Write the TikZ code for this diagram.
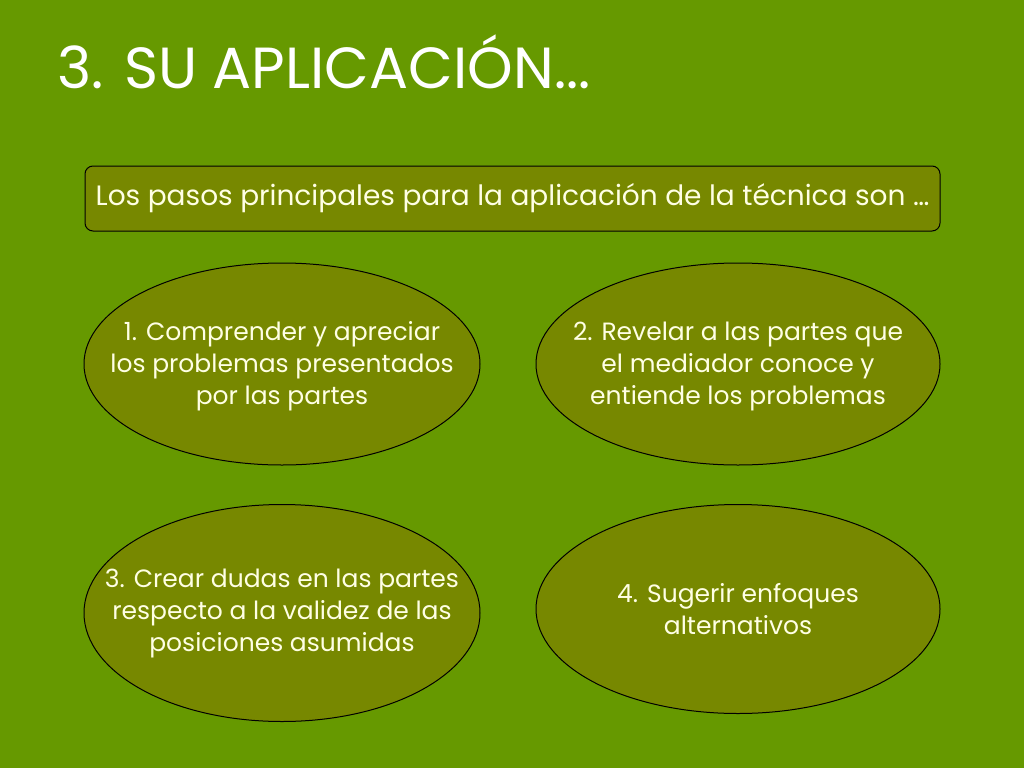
\documentclass[tikz,border=0pt]{standalone}
\usepackage{fontspec}
\setmainfont{Poppins}
\usetikzlibrary{shapes.geometric,positioning}
\definecolor{slidegreen}{RGB}{102,153,0}
\definecolor{olivefill}{RGB}{119,136,0}
\definecolor{cream}{RGB}{255,255,228}

\begin{document}
\begin{tikzpicture}[x=1pt,y=-1pt,
headline/.style={
  anchor=base west,
  inner sep=0,
  text=white,
  font=\fontsize{58}{62}\selectfont
  },
lead/.style={
  draw=black,
  line width=1pt,
  fill=olivefill,
  rounded corners=8pt,
  minimum width=855pt,
  minimum height=65pt,
  text=cream,
  font=\fontsize{28}{32}\selectfont
  },
oval/.style={
  draw=black,
  line width=1pt,
  fill=olivefill,
  ellipse,
  inner sep=0
  },
ovaltext/.style={
  align=center,
  text=cream,
  inner sep=0,
  font=\fontsize{25}{32}\selectfont
  }]
\fill[slidegreen] (0,0) rectangle (1024,768);
\useasboundingbox (0,0) rectangle (1024,768);

\node[headline] (title) at (57,88) {3. SU APLICACIÓN...};

\node[lead] (intro) at (512.5,198.5) {Los pasos principales para la aplicación de la técnica son …};

\node[oval,minimum width=396pt,minimum height=202pt] (o1) at (282,364) {};
\node[oval,minimum width=404pt,minimum height=202pt] (o2) at (738,364) {};
\node[oval,minimum width=396pt,minimum height=217pt] (o3) at (282,613) {};
\node[oval,minimum width=404pt,minimum height=209pt] (o4) at (738,609) {};

\node[ovaltext] (t1) at ([yshift=-2pt]o1.center) {1. Comprender y apreciar\\los problemas presentados\\por las partes};
\node[ovaltext] (t2) at ([yshift=-2pt]o2.center) {2. Revelar a las partes que\\el mediador conoce y\\entiende los problemas};
\node[ovaltext] (t3) at ([yshift=0pt]o3.center) {3. Crear dudas en las partes\\respecto a la validez de las\\posiciones asumidas};
\node[ovaltext] (t4) at ([yshift=0pt]o4.center) {4. Sugerir enfoques\\alternativos};

\end{tikzpicture}
\end{document}
